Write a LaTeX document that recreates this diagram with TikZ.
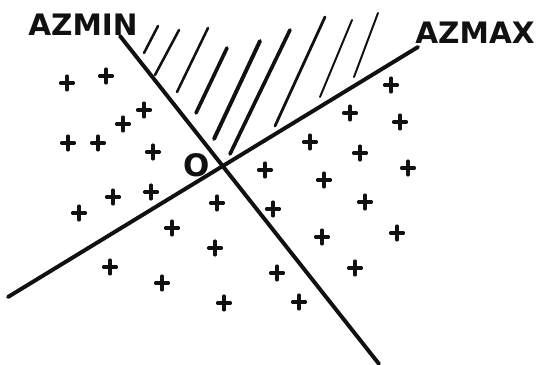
\documentclass[tikz,border=0pt]{standalone}
\usepackage{fontspec}
\newfontfamily\handfont{DejaVu Sans}
\usetikzlibrary{positioning}
\definecolor{InkBlack}{HTML}{111111}
\tikzset{
  axisline/.style={draw=InkBlack, line width=2.8pt, line cap=round},
  hatchline/.style={draw=InkBlack, line cap=round},
  plusmark/.style={draw=InkBlack, line width=2.2pt, line cap=round},
  azlabel/.style={font=\handfont\bfseries\fontsize{21}{21}\selectfont, text=InkBlack, inner sep=0pt},
  originlabel/.style={font=\handfont\bfseries\fontsize{22}{22}\selectfont, text=InkBlack, inner sep=0pt}
}

\begin{document}
\begin{tikzpicture}[x=0.025cm, y=-0.025cm]
\useasboundingbox (0,0) rectangle (536,365);
\coordinate (minTop) at (120,36);
\coordinate (minEnd) at (379,364);
\coordinate (maxTop) at (418,47);
\coordinate (maxEnd) at (8,297);
\draw[axisline] (minTop) -- (minEnd);
\draw[axisline] (maxTop) -- (maxEnd);
\node[azlabel] (azmin) at (83,25) {AZMIN};
\node[azlabel] (azmax) at (475,33) {AZMAX};
\node[originlabel] (origin) at (197,165) {O};
\foreach \xa/\ya/\xb/\yb/\w in {158/26/144/53/1.8, 179/30/155/75/1.8, 208/28/177/92/1.8,
    227/48/196/113/2.6, 260/41/214/139/2.8, 290/30/230/154/2.6,
    325/17/275/126/2.0, 352/20/320/97/1.4, 378/13/354/77/1.4}
  \draw[hatchline, line width=\w pt] (\xa,\ya) -- (\xb,\yb);
\foreach \x/\y in {67/83, 106/76, 144/110, 123/124, 68/143, 98/143, 153/152,
    113/197, 151/192, 79/213, 217/203, 172/228, 215/248, 110/267, 162/283, 224/303,
    265/170, 273/209, 277/273, 299/302, 310/142, 324/180, 322/237,
    350/113, 360/153, 365/202, 355/268, 391/85, 400/122, 408/168, 397/233}
  \draw[plusmark] (\x,\y) +(-6.5,0) -- +(6.5,0) +(0,-7) -- +(0,7);
\end{tikzpicture}
\end{document}
